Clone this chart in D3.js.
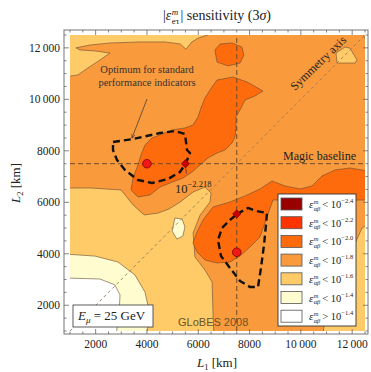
<!DOCTYPE html>
<html><head><meta charset="utf-8">
<script src="https://cdn.jsdelivr.net/npm/d3@7"></script>
<style>
body{margin:0;background:#fff}
svg text{font-family:"Liberation Serif","DejaVu Serif",serif;fill:#222}
</style></head><body>
<svg id="chart" width="371" height="372"></svg>
<script>
// ---- axis data (baselines in km) ----
const L1Domain = [1000, 12500];
const L2Domain = [1000, 12500];
const xTicks = [2000, 4000, 6000, 8000, 10000, 12000];
const yTicks = [2000, 4000, 6000, 8000, 10000, 12000];
const minorStep = 500;

// ---- legend levels: log10 of the sensitivity bound ----
const levelKeys = ["c24", "c22", "c20", "c18", "c16", "c14", "c00"];
const levelExponents = ["-2.4", "-2.2", "-2.0", "-1.8", "-1.6", "-1.4", "-1.4"];
const levelRelations = ["<", "<", "<", "<", "<", "<", ">"];

// ---- sensitivity regions, outlines as [L1, L2] in km ----
const backgroundLevel = "c18";
const topLeftPale = [[800,12700],[6450,12700],[6380,12500],[6000,12380],[5750,12230],[5520,11950],[5300,12150],[4700,12230],[3700,12230],[2560,12190],[1780,12110],[1230,12000],[1390,11920],[1980,11880],[2560,11800],[2170,11530],[1700,11220],[1310,10950],[800,10870]];
const topRightPale = [[11370,11800],[11720,12030],[11910,11990],[12190,11530],[12110,11410],[11410,11410]];
const cornerPale = [[12350,12750],[12750,12750],[12750,12250],[12500,12350]];
const bottomRightPale = [[10820,650],[10940,1430],[11330,2590],[11910,3950],[12380,5000],[12750,5240],[12750,650]];
const lowerLeftPale = [[800,6555],[1820,6555],[2990,6480],[3460,5900],[3890,5510],[4430,5580],[4860,5740],[5290,6010],[5800,6400],[6260,6590],[6500,6360],[6460,6010],[6070,5500],[5800,4810],[5870,3880],[6260,3370],[6540,2900],[6570,1820],[6610,800],[800,800]];
const lowerLeftYellow = [[800,3990],[1975,3910],[2870,3680],[3530,3180],[3920,2520],[4080,1820],[4000,800],[800,800]];
const lowerLeftWhite = [[800,3060],[2170,3020],[2750,2790],[2950,2400],[2910,1620],[2790,800],[800,800]];
const yellowIsland = [[5090,5390],[5370,5350],[5480,5040],[5400,4690],[5170,4570],[4980,4880]];
const topBlob = [[6650,11920],[6850,12150],[7320,12190],[7700,12030],[7780,11720],[7630,11410],[7160,11300],[6730,11450]];
const upperDeep = [[6535,10479],[6730,10751],[7354,10868],[7900,10674],[8250,10479],[8523,10324],[8211,10130],[7822,9974],[7666,9664],[7471,9314],[7471,8887],[7432,8537],[7315,8304],[7042,8032],[6730,7915],[6379,7721],[6067,7449],[5756,7177],[5405,6944],[4898,6750],[4508,6594],[4118,6284],[3651,6206],[3378,6478],[3456,6944],[3651,7449],[3768,7838],[3924,8226],[4196,8498],[4586,8653],[4976,8809],[5483,8887],[5795,9003],[5989,9314],[6106,9664],[6262,10052]];
const lowerDeep = [[5795,4419],[5950,4846],[6184,5312],[6574,5817],[7237,6012],[7822,6245],[8406,6517],[8874,6828],[9381,6633],[9965,6517],[10433,6633],[10823,7022],[11330,7255],[11914,7333],[12700,7200],[12700,6089],[8913,6089],[8679,5429],[8406,4652],[8016,4263],[7627,3914],[7237,3681],[6730,3642],[6262,3758],[5950,4069]];

const regions = [
  {pts: topLeftPale, level: "c16"},
  {pts: topRightPale, level: "c16"},
  {pts: cornerPale, level: "c16"},
  {pts: bottomRightPale, level: "c16"},
  {pts: lowerLeftPale, level: "c16"},
  {pts: lowerLeftYellow, level: "c14"},
  {pts: lowerLeftWhite, level: "c00"},
  {pts: yellowIsland, level: "c14"},
  {pts: topBlob, level: "c20"},
  {pts: upperDeep, level: "c20"},
  {pts: lowerDeep, level: "c20"}
];

// ---- optimum contours (dashed) and best-fit setups ----
const optimumUpper = [[2676,8343],[3456,8460],[4508,8692],[5093,8770],[5483,8653],[5561,8032],[5678,7915],[5522,7527],[5288,7177],[4820,6905],[4196,6750],[3650,6866],[3144,7255],[2832,7643],[2676,8032]];
const optimumLower = [[7510,5545],[7938,5779],[8250,5662],[8679,5584],[8640,5118],[8562,4341],[8445,3448],[8328,2709],[8016,2709],[7627,2942],[7237,3448],[6886,3914],[6769,4535],[6925,5002],[7237,5312]];
const circleSetups = [[4000,7500],[7500,4060]];
const diamondSetups = [[5500,7500],[7500,5545]];
const magicBaseline = 7500;
const bestValueExp = "-2.218";

// ---- styles ----
const levelColor = {c24:"#990000", c22:"#ff3300", c20:"#fd6b0d", c18:"#f99a3c", c16:"#fecb68", c14:"#fffccf", c00:"#ffffff"};

const svg = d3.select("#chart");
const plot = {left:70, right:365, top:35, bottom:331};
const frame = {left:64, right:368, top:30, bottom:334};
const x = d3.scaleLinear().domain(L1Domain).range([plot.left, plot.right]);
const y = d3.scaleLinear().domain(L2Domain).range([plot.bottom, plot.top]);

const defs = svg.append("defs");
defs.append("clipPath").attr("id","plotClip")
  .append("rect").attr("x",plot.left).attr("y",plot.top)
  .attr("width",plot.right-plot.left).attr("height",plot.bottom-plot.top);

const area = svg.append("g").attr("clip-path","url(#plotClip)");
area.append("rect").attr("x",x(L1Domain[0])).attr("y",y(L2Domain[1]))
  .attr("width",x(L1Domain[1])-x(L1Domain[0])).attr("height",y(L2Domain[0])-y(L2Domain[1]))
  .attr("fill",levelColor[backgroundLevel]);

const outline = d3.line().x(d=>x(d[0])).y(d=>y(d[1])).curve(d3.curveLinearClosed);
area.selectAll("path.region").data(regions).join("path")
  .attr("class","region")
  .attr("d", d=>outline(d.pts))
  .attr("fill", d=>levelColor[d.level])
  .attr("stroke","#6a4a30").attr("stroke-width",0.6).attr("stroke-linejoin","round");

// guide lines
area.append("line").attr("x1",x(L1Domain[0])).attr("y1",y(L2Domain[0]))
  .attr("x2",x(L1Domain[1])).attr("y2",y(L2Domain[1]))
  .attr("stroke","#9a7a5a").attr("stroke-width",0.9).attr("stroke-dasharray","3,3");
area.append("line").attr("x1",x(L1Domain[0])).attr("x2",x(L1Domain[1]))
  .attr("y1",y(magicBaseline)).attr("y2",y(magicBaseline))
  .attr("stroke","#6e4a28").attr("stroke-width",1).attr("stroke-dasharray","5,3");
area.append("line").attr("y1",y(L2Domain[0])).attr("y2",y(L2Domain[1]))
  .attr("x1",x(magicBaseline)).attr("x2",x(magicBaseline))
  .attr("stroke","#6e4a28").attr("stroke-width",1).attr("stroke-dasharray","5,3");

// optimum contours
const dashed = d3.line().x(d=>x(d[0])).y(d=>y(d[1])).curve(d3.curveLinearClosed);
[optimumUpper, optimumLower].forEach(c=>{
  area.append("path").attr("d",dashed(c)).attr("fill","none")
    .attr("stroke","#111").attr("stroke-width",2.4).attr("stroke-dasharray","7,4")
    .attr("stroke-linejoin","round");
});

// value annotation pointer
area.append("line").attr("x1",x(diamondSetups[0][0])).attr("y1",y(diamondSetups[0][1])+2)
  .attr("x2",x(diamondSetups[0][0])+1).attr("y2",y(diamondSetups[0][1])+10)
  .attr("stroke","#333").attr("stroke-width",0.7);

// setup markers
area.selectAll("circle.setup").data(circleSetups).join("circle")
  .attr("class","setup").attr("cx",d=>x(d[0])).attr("cy",d=>y(d[1])).attr("r",4.3)
  .attr("fill","#f01818").attr("stroke","#7a0000").attr("stroke-width",0.8);
area.selectAll("path.setupD").data(diamondSetups).join("path")
  .attr("class","setupD")
  .attr("d","M0,-4.2L4.2,0L0,4.2L-4.2,0Z")
  .attr("transform",d=>`translate(${x(d[0])},${y(d[1])})`)
  .attr("fill","#c80000").attr("stroke","#600").attr("stroke-width",0.6);

// ---- frame and ticks ----
svg.append("rect").attr("x",frame.left).attr("y",frame.top)
  .attr("width",frame.right-frame.left).attr("height",frame.bottom-frame.top)
  .attr("fill","none").attr("stroke","#777").attr("stroke-width",1);
const minor = d3.range(L1Domain[0], L1Domain[1]+1, minorStep);
const tg = svg.append("g").attr("stroke","#666").attr("stroke-width",0.8);
minor.forEach(v=>{
  const major = xTicks.includes(v);
  const len = major ? 5 : 2.5;
  tg.append("line").attr("x1",x(v)).attr("x2",x(v)).attr("y1",frame.bottom).attr("y2",frame.bottom-len);
  tg.append("line").attr("x1",x(v)).attr("x2",x(v)).attr("y1",frame.top).attr("y2",frame.top+len);
  tg.append("line").attr("y1",y(v)).attr("y2",y(v)).attr("x1",frame.left).attr("x2",frame.left+len);
  tg.append("line").attr("y1",y(v)).attr("y2",y(v)).attr("x1",frame.right).attr("x2",frame.right-len);
});
const fmt = v => { const s = String(v); return s.length > 4 ? s.slice(0, s.length-3) + "\u2009" + s.slice(-3) : s; };
svg.selectAll("text.xt").data(xTicks).join("text").attr("class","xt")
  .attr("x",d=>x(d)).attr("y",348).attr("text-anchor","middle")
  .style("font-size","11.5px").text(fmt);
svg.selectAll("text.yt").data(yTicks).join("text").attr("class","yt")
  .attr("x",60).attr("y",d=>y(d)+4).attr("text-anchor","end")
  .style("font-size","11.5px").text(fmt);

// ---- rich text helper: runs laid out left to right, optional stacked pair ----
function runs(g, items){
  let cx = 0;
  items.forEach(it=>{
    if (it.stack){
      let w = 0;
      it.stack.forEach(s=>{
        const t = g.append("text").attr("x",cx).attr("y",s.dy)
          .style("font-size",s.size+"px").style("font-style",s.italic?"italic":"normal").text(s.text);
        w = Math.max(w, t.node().getComputedTextLength());
      });
      cx += w + (it.gap||0);
    } else {
      const t = g.append("text").attr("x",cx).attr("y",it.dy||0)
        .style("font-size",it.size+"px").style("font-style",it.italic?"italic":"normal")
        .attr("xml:space","preserve").text(it.text);
      if (it.fill) t.style("fill", it.fill);
      cx += t.node().getComputedTextLength() + (it.gap||0);
    }
  });
  return cx;
}
function centered(cx, cy, items, rotate){
  const g = svg.append("g");
  const w = runs(g, items);
  g.attr("transform", rotate ? `translate(${cx},${cy}) rotate(${rotate}) translate(${-w/2},0)` : `translate(${cx - w/2},${cy})`);
  return g;
}

// title
centered(217, 20, [
  {text:"|", size:14},
  {text:"\u03B5", size:14, italic:true, gap:0.5},
  {stack:[{text:"m", size:9, dy:-5.5, italic:true},{text:"e\u03C4", size:9, dy:3.5}], gap:1},
  {text:"| sensitivity (3", size:14},
  {text:"\u03C3", size:14, italic:true},
  {text:")", size:14}
]);
// axis labels
centered(217, 367, [
  {text:"L", size:13, italic:true},
  {text:"1", size:8.5, dy:3},
  {text:" [km]", size:13}
]);
centered(20, 183, [
  {text:"L", size:13, italic:true},
  {text:"2", size:8.5, dy:3},
  {text:" [km]", size:13}
], -90);

// ---- annotations inside the plot ----
const ann = svg.append("g");
ann.append("text").attr("x",147).attr("y",73).attr("text-anchor","middle")
  .style("font-size","10.5px").style("fill","#333").text("Optimum for standard");
ann.append("text").attr("x",147).attr("y",86).attr("text-anchor","middle")
  .style("font-size","10.5px").style("fill","#333").text("performance indicators");
defs.append("marker").attr("id","arrowHead").attr("viewBox","0 0 10 10")
  .attr("refX",9).attr("refY",5).attr("markerWidth",6).attr("markerHeight",6).attr("orient","auto")
  .append("path").attr("d","M0,1 L10,5 L0,9").attr("fill","none").attr("stroke","#333").attr("stroke-width",1.2);
ann.append("line").attr("x1",147).attr("y1",99).attr("x2",x(optimumUpper[1][0])-1).attr("y2",y(optimumUpper[1][1])-1)
  .attr("stroke","#333").attr("stroke-width",0.7).attr("marker-end","url(#arrowHead)");

ann.append("text").attr("x",283).attr("y",160).style("font-size","12px").text("Magic baseline");
ann.append("text").attr("transform","translate(321,66) rotate(-44)").attr("text-anchor","middle")
  .style("font-size","12px").text("Symmetry axis");

const lab = svg.append("g").attr("transform","translate(175,193)");
runs(lab, [{text:"10", size:12.5},{text:bestValueExp.replace("-","\u2212"), size:8.5, dy:-6}]);

ann.append("text").attr("x",178).attr("y",326)
  .style("font-family","'Liberation Sans','DejaVu Sans',sans-serif").style("font-size","11px")
  .style("fill","#6a5428").text("GLoBES 2008");

// energy box
svg.append("rect").attr("x",73).attr("y",305).attr("width",80).attr("height",22)
  .attr("fill","#fff").attr("stroke","#333").attr("stroke-width",0.8);
const eb = svg.append("g").attr("transform","translate(78,320)");
runs(eb, [{text:"E", size:13, italic:true},{text:"\u03BC", size:9, dy:3, italic:true},{text:" = 25 GeV", size:13}]);

// ---- legend ----
const leg = svg.append("g").attr("transform","translate(278,194)");
leg.append("rect").attr("width",78).attr("height",132).attr("fill","#fff")
  .attr("stroke","#333").attr("stroke-width",0.9);
levelKeys.forEach((k,i)=>{
  const row = leg.append("g").attr("transform",`translate(3,${4+i*18.7})`);
  row.append("rect").attr("width",21).attr("height",12).attr("fill",levelColor[k])
    .attr("stroke","#555").attr("stroke-width",0.8);
  const t = row.append("g").attr("transform","translate(28,10)");
  runs(t, [
    {text:"\u03B5", size:11, italic:true, gap:0.3},
    {stack:[{text:"m", size:6.5, dy:-4, italic:true},{text:"\u03B1\u03B2", size:6.5, dy:2.5, italic:true}], gap:2},
    {text:levelRelations[i]+" 10", size:10.5},
    {text:levelExponents[i].replace("-","\u2212"), size:6.5, dy:-5}
  ]);
});
</script>
</body></html>
